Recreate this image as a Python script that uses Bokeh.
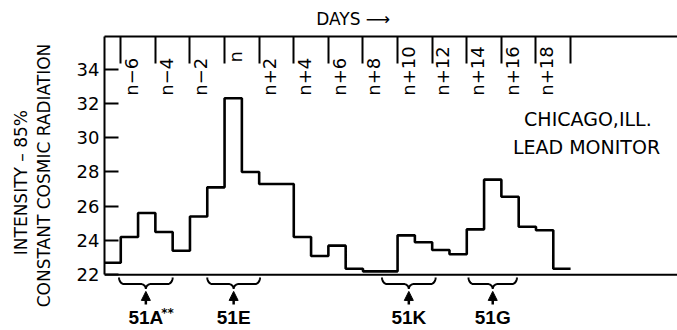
import numpy as np
from bokeh.plotting import figure
from bokeh.layouts import row
from bokeh.models import ColumnDataSource, FixedTicker, Span, Label, Arrow, NormalHead
from bokeh.core.properties import value
from bokeh.embed import file_html
from bokeh.resources import INLINE

# ---- data ----
days = list(range(-7, 20))
intensity = [22.7, 24.2, 25.6, 24.5, 23.4, 25.4, 27.1, 32.3, 28.0, 27.3, 27.3,
             24.2, 23.1, 23.7, 22.35, 22.2, 22.2, 24.3, 23.9, 23.45, 23.2,
             24.65, 27.55, 26.55, 24.8, 24.6, 22.35]
tick_days = list(range(-6, 21, 2))
tick_labels = ["n\u22126", "n\u22124", "n\u22122", "n", "n+2", "n+4", "n+6",
               "n+8", "n+10", "n+12", "n+14", "n+16", "n+18"]
y_ticks = [22, 24, 26, 28, 30, 32, 34]
y_titles = ["INTENSITY \u2013 85%", "CONSTANT COSMIC RADIATION"]
event_labels = ["51A", "51E", "51K", "51G"]
event_start = [-6.1, -1.0, 9.1, 14.1]
event_end = [-3.0, 2.05, 12.2, 16.9]

FONT = "DejaVu Sans"
H = 330
TW = 60          # width of the title strip
MW = 677 - TW    # width of the main figure
NB = "\u00a0"

# ---- title strip (y-axis titles) ----
t = figure(width=TW, height=H, x_range=(0, TW), y_range=(0, H),
           output_backend="svg", toolbar_location=None,
           min_border=0, x_axis_location=None, y_axis_location=None)
t.outline_line_color = None
t.grid.visible = False
t.text(x=[20, 43], y=[H - 164, H - 156], text=y_titles, angle=np.pi / 2,
       text_align="center", text_baseline="middle", text_font=value(FONT),
       text_font_size="17px", text_color="black")

# ---- main figure ----
p = figure(width=MW, height=H, x_range=(-6.94, 26.18), y_range=(18.75, 35.9),
           x_axis_location="above", output_backend="svg", toolbar_location=None,
           min_border_left=104 - TW, min_border_right=0, min_border_top=36, min_border_bottom=0)
p.outline_line_color = None
p.grid.visible = False
p.background_fill_color = "white"
p.border_fill_color = "white"

# step line
xs = days + [days[-1] + 1]
ys = intensity + [intensity[-1]]
p.step(xs, ys, mode="after", line_width=2.6, line_color="black")

# top axis
xa = p.xaxis[0]
xa.ticker = FixedTicker(ticks=tick_days)
xa.major_tick_in = 27
xa.major_tick_out = 0
xa.minor_tick_line_color = None
xa.major_label_text_color = None
xa.major_label_text_font_size = "1px"
xa.major_label_standoff = 0
xa.axis_line_width = 2
xa.major_tick_line_width = 2
xa.axis_label = "DAYS \u27f6" + NB * 14
xa.axis_label_text_font = FONT
xa.axis_label_text_font_size = "17px"
xa.axis_label_text_font_style = "normal"
xa.axis_label_text_color = "black"
xa.axis_label_standoff = 8

# left axis
ya = p.yaxis[0]
ya.ticker = FixedTicker(ticks=y_ticks)
ya.major_tick_in = 14
ya.major_tick_out = 0
ya.minor_tick_line_color = None
ya.bounds = (22, 35.9)
ya.major_label_text_font = FONT
ya.major_label_text_font_size = "18px"
ya.major_label_text_color = "black"
ya.major_label_standoff = 5
ya.axis_line_width = 2
ya.major_tick_line_width = 2

# baseline
p.add_layout(Span(location=22, dimension="width", line_width=2, line_color="black"))

# top tick labels (inside the frame, rotated)
lab_x = [d + 0.62 for d in tick_days[:len(tick_labels)]]
long_idx = [i for i, s in enumerate(tick_labels) if len(s) > 1]
short_idx = [i for i, s in enumerate(tick_labels) if len(s) == 1]
p.text(x=[lab_x[i] for i in long_idx], y=32.45, text=[tick_labels[i] for i in long_idx],
       angle=np.pi / 2, text_align="left", text_baseline="middle",
       text_font=value(FONT), text_font_size="18px", text_color="black")
p.text(x=[lab_x[i] for i in short_idx], y=35.05, text=[tick_labels[i] for i in short_idx],
       angle=np.pi / 2, text_align="right", text_baseline="middle",
       text_font=value(FONT), text_font_size="18px", text_color="black")

# braces
y_mid = 21.46
h_end = 0.38
h_tip = 0.29
r = 0.29
th = np.linspace(0, np.pi / 2, 10)
bx, by = [], []
for a, b in zip(event_start, event_end):
    c = (a + b) / 2
    x1 = a + r * (1 - np.cos(th)); y1 = y_mid + h_end * (1 - np.sin(th))
    x2 = c - r + r * np.sin(th); y2 = y_mid - h_tip * (1 - np.cos(th))
    x3 = (c + r - r * np.sin(th))[::-1]; y3 = (y_mid - h_tip * (1 - np.cos(th)))[::-1]
    x4 = (b - r * (1 - np.cos(th)))[::-1]; y4 = (y_mid + h_end * (1 - np.sin(th)))[::-1]
    bx.append(list(np.concatenate([x1, x2, x3, x4])))
    by.append(list(np.concatenate([y1, y2, y3, y4])))
p.multi_line(bx, by, line_color="black", line_width=2)

centers = [(a + b) / 2 for a, b in zip(event_start, event_end)]
asrc = ColumnDataSource(dict(x=centers))
p.add_layout(Arrow(end=NormalHead(size=9, fill_color="black", line_color="black", line_width=1),
                   x_start="x", y_start=20.27, x_end="x", y_end=21.03,
                   source=asrc, line_width=2.5, line_color="black"))

p.text(x=centers, y=19.5, text=event_labels, text_align="center", text_baseline="middle",
       text_font=value("Liberation Sans"), text_font_style="bold", text_font_size="19px",
       text_color="black")
p.add_layout(Label(x=centers[0] + 1.25, y=19.8, text="**", text_align="center",
                   text_baseline="middle", text_font=FONT, text_font_style="bold",
                   text_font_size="12px", text_color="black"))

p.add_layout(Label(x=21.0, y=31.06, text="CHICAGO,ILL.", text_align="center",
                   text_baseline="middle", text_font=FONT, text_font_size="19px",
                   text_color="black"))
p.add_layout(Label(x=20.92, y=29.48, text="LEAD MONITOR", text_align="center",
                   text_baseline="middle", text_font=FONT, text_font_size="19px",
                   text_color="black"))

layout = row(t, p, spacing=0)
open("out.html", "w").write(file_html(layout, INLINE))
